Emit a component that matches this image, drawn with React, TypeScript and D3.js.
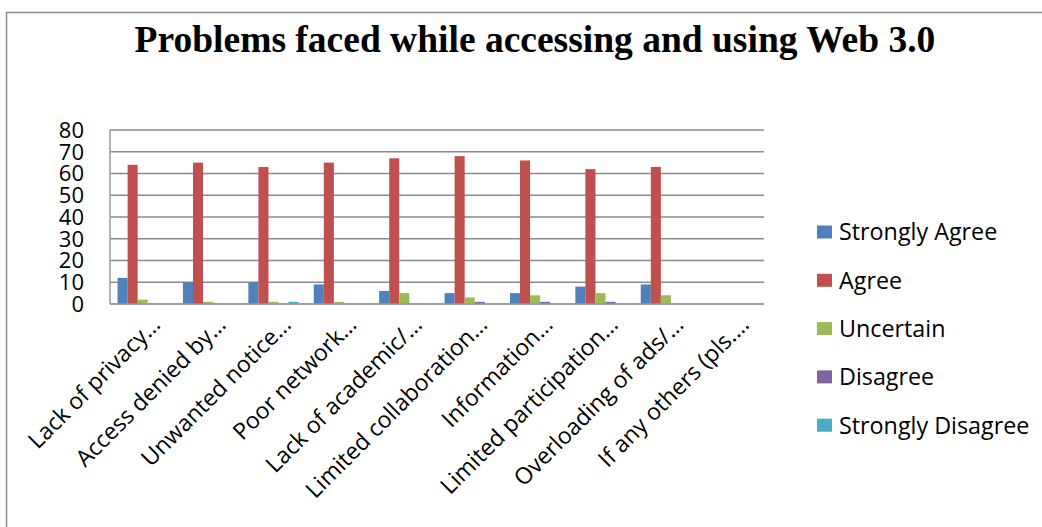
import React from "react";
import * as d3 from "d3";

// Survey categories (truncated as shown on the axis)
const categories = [
  "Lack of privacy…",
  "Access denied by…",
  "Unwanted notice…",
  "Poor network…",
  "Lack of academic/…",
  "Limited collaboration…",
  "Information…",
  "Limited participation…",
  "Overloading of ads/…",
  "If any others (pls.…",
];

const seriesNames = ["Strongly Agree", "Agree", "Uncertain", "Disagree", "Strongly Disagree"];
const seriesColors = ["#4F81BD", "#C0504D", "#9BBB59", "#8064A2", "#4BACC6"];

const stronglyAgree = [12, 10, 10, 9, 6, 5, 5, 8, 9, 0];
const agree = [64, 65, 63, 65, 67, 68, 66, 62, 63, 0];
const uncertain = [2, 1, 1, 1, 5, 3, 4, 5, 4, 0];
const disagree = [0, 0, 0, 0, 0, 1, 1, 1, 0, 0];
const stronglyDisagree = [0, 0, 1, 0, 0, 0, 0, 0, 0, 0];

const yTicks = [0, 10, 20, 30, 40, 50, 60, 70, 80];

const seriesValues = [stronglyAgree, agree, uncertain, disagree, stronglyDisagree];

const W = 1042;
const H = 527;
const plot = { left: 110, right: 764, top: 130, bottom: 304 };
const FONT = "'Open Sans', 'Noto Sans', sans-serif";

export default function App() {
  const x = d3.scaleBand<string>().domain(categories).range([plot.left, plot.right]).padding(0);
  const xs = d3
    .scaleBand<string>()
    .domain(seriesNames)
    .range([0, x.bandwidth()])
    .paddingInner(0)
    .paddingOuter(0.75);
  const y = d3.scaleLinear().domain([0, 80]).range([plot.bottom, plot.top]);

  const legendX = 817;
  const legendY0 = 232;
  const legendStep = 48.3;

  return (
    <svg
      width={W}
      height={H}
      style={{ position: "absolute", left: 0, top: 0, background: "#fff" }}
    >
      <rect x={6.5} y={12.5} width={W + 20} height={H + 20} fill="#fff" stroke="#8c8c8c" strokeWidth={1.5} />

      <text
        x={535}
        y={52}
        textAnchor="middle"
        fontFamily="'Liberation Serif', 'Times New Roman', serif"
        fontWeight="bold"
        fontSize={37.5}
        fill="#000"
      >
        Problems faced while accessing and using Web 3.0
      </text>

      {/* gridlines */}
      {yTicks.map((t) => (
        <line
          key={"g" + t}
          x1={plot.left}
          x2={plot.right}
          y1={y(t)}
          y2={y(t)}
          stroke="#8a8a8a"
          strokeWidth={1.5}
        />
      ))}
      {/* value axis */}
      <line x1={plot.left} x2={plot.left} y1={plot.top} y2={plot.bottom} stroke="#9a9a9a" strokeWidth={1.5} />

      {yTicks.map((t) => (
        <text
          key={"t" + t}
          x={84}
          y={y(t)}
          dy="0.36em"
          textAnchor="end"
          fontFamily={FONT}
          fontSize={22}
          fill="#000"
        >
          {t}
        </text>
      ))}

      {/* bars */}
      {categories.map((c, i) => (
        <g key={c} transform={`translate(${x(c)},0)`}>
          {seriesNames.map((s, j) => {
            const v = seriesValues[j][i];
            if (!v) return null;
            return (
              <rect
                key={s}
                x={xs(s)}
                y={y(v)}
                width={xs.bandwidth()}
                height={y(0) - y(v)}
                fill={seriesColors[j]}
              />
            );
          })}
        </g>
      ))}

      {/* category axis */}
      <line x1={plot.left} x2={plot.right} y1={plot.bottom} y2={plot.bottom} stroke="#9a9a9a" strokeWidth={1.5} />

      {categories.map((c) => {
        const cx = (x(c) as number) + x.bandwidth() / 2;
        return (
          <text
            key={"l" + c}
            transform={`translate(${cx + 19},${326}) rotate(-45)`}
            textAnchor="end"
            fontFamily={FONT}
            fontSize={23}
            fill="#000"
          >
            {c}
          </text>
        );
      })}

      {/* legend */}
      {seriesNames.map((s, j) => (
        <g key={"k" + s} transform={`translate(${legendX},${legendY0 + j * legendStep})`}>
          <rect x={0} y={-6.5} width={15} height={13} fill={seriesColors[j]} />
          <text x={22} y={0} dy="0.36em" fontFamily={FONT} fontSize={23.3} fill="#000">
            {s}
          </text>
        </g>
      ))}
    </svg>
  );
}
